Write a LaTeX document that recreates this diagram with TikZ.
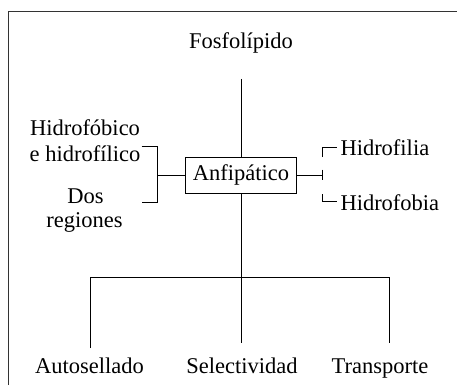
\documentclass[tikz,border=0pt]{standalone}
\usepackage{fontspec}
\setmainfont{Liberation Serif}
\begin{document}
\begin{tikzpicture}[x=1pt,y=-1pt,
  font=\fontsize{22.5}{26}\selectfont,
  line width=1pt,
  lbl/.style={inner sep=0pt},
  boxnode/.style={draw, minimum width=111pt, minimum height=36pt, inner sep=0pt},
  frame/.style={line width=1.3pt, draw=black!80}]
\useasboundingbox (0,0) rectangle (457,385);
% open frame
\draw[frame] (8.5,385) -- (8.5,11.5) -- (457,11.5);
% nodes
\node[lbl, anchor=base] (fos) at (241,49) {Fosfolípido};
\node[boxnode] (anf) at (241,175) {Anfipático};
\node[lbl, anchor=base] (h1) at (85,135) {Hidrofóbico};
\node[lbl, anchor=base] (h2) at (85,161) {e hidrofílico};
\node[lbl, anchor=base] (d1) at (85.5,203) {Dos};
\node[lbl, anchor=base] (d2) at (84.5,227) {regiones};
\node[lbl, anchor=base west] (hfil) at (340,155) {Hidrofilia};
\node[lbl, anchor=base west] (hfob) at (340,210) {Hidrofobia};
\node[lbl, anchor=base] (auto) at (89.5,373) {Autosellado};
\node[lbl, anchor=base] (sel) at (242,373) {Selectividad};
\node[lbl, anchor=base] (tra) at (380,373) {Transporte};
% coordinates
\coordinate (top) at (241,79);
\coordinate (mid) at (241,343);
\coordinate (l0) at (90,277);
\coordinate (l1) at (90,348);
\coordinate (r0) at (389,277);
\coordinate (r1) at (389,343);
\coordinate (lb1) at (141.7,146);
\coordinate (lb2) at (157,146);
\coordinate (lb3) at (157,202);
\coordinate (lb4) at (141.7,202);
\coordinate (lbm) at (157,175);
\coordinate (rt) at (322.7,175);
\coordinate (rt1) at (322.7,169.5);
\coordinate (rt2) at (322.7,179.5);
\coordinate (ru0) at (322.7,157);
\coordinate (ru1) at (322.7,147.5);
\coordinate (ru2) at (337,147.5);
\coordinate (rd0) at (322.7,194);
\coordinate (rd1) at (322.7,201.7);
\coordinate (rd2) at (337,201.7);
% connectors
\draw (top) -- (anf.north);
\draw (anf.south) -- (mid);
\draw (l1) -- (l0) -- (r0) -- (r1);
\draw (lb1) -- (lb2) -- (lb3) -- (lb4);
\draw (lbm) -- (anf.west);
\draw (anf.east) -- (rt);
\draw (rt1) -- (rt2);
\draw (ru0) -- (ru1) -- (ru2);
\draw (rd0) -- (rd1) -- (rd2);
\end{tikzpicture}
\end{document}
